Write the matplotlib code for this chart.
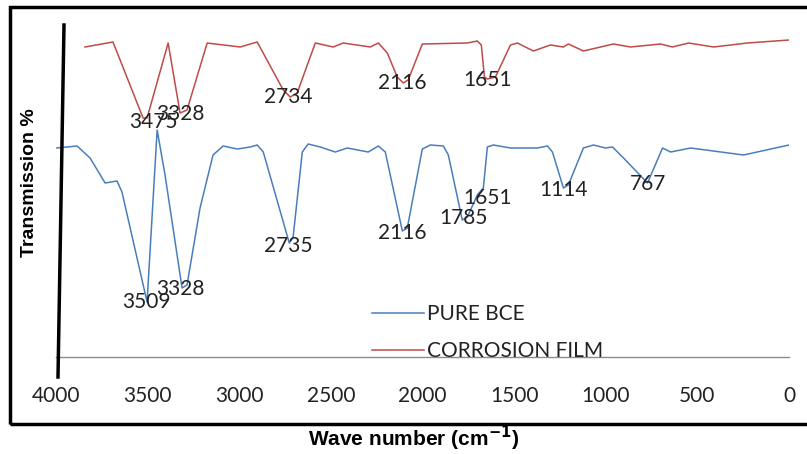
import numpy as np
import matplotlib as mpl
mpl.use("Agg")
import matplotlib.pyplot as plt
from matplotlib.lines import Line2D
from matplotlib.patches import Rectangle

#%% data (wave number, transmission in arbitrary units)
wn_film = [3842, 3689, 3525, 3503, 3388, 3323, 3285, 3175, 2995, 2902, 2760, 2722, 2684,
           2585, 2487, 2433, 2285, 2241, 2192, 2138, 2105, 2078, 2001, 1755, 1701, 1679,
           1662, 1646, 1602, 1520, 1482, 1395, 1302, 1231, 1204, 1122, 958, 865, 701, 636,
           548, 412, 226, 0]
t_film = [310, 315, 239, 239, 314, 244, 247, 314, 310, 315, 267, 260, 264,
          314, 310, 314, 310, 314, 304, 280, 274, 277, 313, 314, 316, 312,
          280, 278, 280, 312, 314, 306, 312, 310, 313, 306, 313, 310, 313, 310,
          314, 310, 314, 317]

wn_pure = [3995, 3885, 3814, 3732, 3667, 3640, 3503, 3448, 3405, 3312, 3285, 3214, 3143,
           3088, 3011, 2940, 2902, 2869, 2727, 2706, 2656, 2624, 2558, 2476, 2411, 2296,
           2241, 2203, 2110, 2083, 2001, 1957, 1886, 1859, 1783, 1755, 1701, 1668, 1646,
           1613, 1520, 1373, 1318, 1291, 1231, 1204, 1122, 1067, 1002, 963, 903, 772, 690,
           646, 537, 248, 0]
t_pure = [209, 211, 199, 174, 176, 165, 55, 227, 182, 69, 72, 149, 202,
          211, 208, 210, 212, 205, 114, 120, 205, 213, 210, 205, 209, 205,
          211, 205, 126, 129, 208, 212, 211, 202, 137, 140, 162, 169, 210,
          212, 209, 209, 211, 205, 169, 172, 209, 212, 209, 210, 199, 174, 209,
          205, 209, 202, 212]

# peak labels (text, x, y)
lab_film = ["3475", "3328", "2734", "2116", "1651"]
lab_film_x = [3470, 3323, 2733, 2110, 1646]
lab_film_y = [235, 243, 260, 274, 277]

lab_pure = ["3509", "3328", "2735", "2116", "1785", "1651", "1114", "767"]
lab_pure_x = [3508, 3323, 2733, 2110, 1777, 1646, 1231, 767]
lab_pure_y = [55, 68, 111, 124, 139, 159, 167, 173]

x_ticks = [4000, 3500, 3000, 2500, 2000, 1500, 1000, 500, 0]

#%%
W, H = 807, 454
fig = plt.figure(figsize=(W / 100, H / 100), dpi=100)
ax = fig.add_axes([56 / W, (H - 357) / H, (789 - 56) / W, (357 - 25) / H])

col_pure = "#4A7EBB"
col_film = "#BE4B48"
lab_font = "Lato"

ax.plot(wn_pure, t_pure, color=col_pure, lw=1.1, label="PURE BCE")
ax.plot(wn_film, t_film, color=col_film, lw=1.1, label="CORROSION FILM")

for s, x, y in zip(lab_film, lab_film_x, lab_film_y):
    ax.text(x, y, s, ha="center", va="center", fontsize=15, family=lab_font, color="#222222")
for s, x, y in zip(lab_pure, lab_pure_x, lab_pure_y):
    ax.text(x, y, s, ha="center", va="center", fontsize=15, family=lab_font, color="#222222")

ax.set_xlim(4000, 0)
ax.set_ylim(0, 332)
ax.set_xticks(x_ticks)
ax.set_xticklabels([str(t) for t in x_ticks], family=lab_font, fontsize=15, color="#222222")
ax.tick_params(axis="x", length=0, pad=21)
ax.set_yticks([])
for sp in ["top", "right", "left"]:
    ax.spines[sp].set_visible(False)
ax.spines["bottom"].set_color("#8c8c8c")
ax.spines["bottom"].set_linewidth(1)

leg = ax.legend(loc="upper left", bbox_to_anchor=(372 / W, (H - 304) / H),
                bbox_transform=fig.transFigure, frameon=False, borderpad=0,
                borderaxespad=0, handlelength=2.5, handletextpad=0.15,
                labelspacing=0.83, prop={"family": lab_font, "size": 15})
for t in leg.get_texts():
    t.set_color("#222222")

# axis titles
fig.text(30 / W, 1 - 183 / H, "Transmission %", rotation=90, ha="center", va="center",
         fontsize=14, fontweight="bold", family="Liberation Sans")
fig.text(414 / W, 1 - 438 / H, "Wave number (cm$^{\\mathbf{-1}}$)", ha="center", va="center",
         fontsize=15, fontweight="bold", family="Liberation Sans")

# hand drawn vertical axis and outer frame
fig.add_artist(Line2D([64 / W, 58 / W], [1 - 25 / H, 1 - 377 / H], color="black", lw=2.5))
fig.add_artist(Rectangle((10 / W, 1 - 424 / H), 1.0, (424 - 7) / H, fill=False,
                         edgecolor="black", lw=2.5, transform=fig.transFigure))

fig.savefig("out.png", dpi=100)
